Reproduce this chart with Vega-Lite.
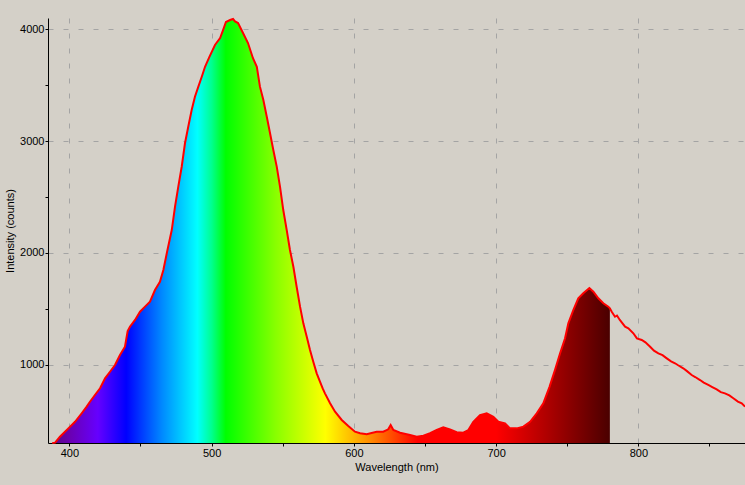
{
  "$schema": "https://vega.github.io/schema/vega-lite/v6.json",
  "width": 697,
  "height": 425,
  "autosize": {"type": "none"},
  "padding": {"left": 48, "top": 18, "right": 0, "bottom": 42},
  "background": "#d4d0c8",
  "config": {
    "view": {"stroke": null},
    "font": "Liberation Sans",
    "axis": {
      "labelFont": "Liberation Sans",
      "titleFont": "Liberation Sans",
      "labelFontSize": 11,
      "titleFontSize": 11,
      "titleFontWeight": "normal",
      "labelColor": "#000000",
      "titleColor": "#000000",
      "domainColor": "#000000",
      "domainWidth": 1,
      "tickColor": "#000000",
      "tickSize": 3,
      "gridColor": "#a4a4a4",
      "gridDash": [5, 10],
      "gridWidth": 1,
      "labelOverlap": false,
      "labelFlush": false,
      "labelBound": false,
      "zindex": 1
    }
  },
  "data": {
    "values": [
      {"wl": 388, "c": 300}, {"wl": 390, "c": 303}, {"wl": 393.4, "c": 356}, {"wl": 399.3, "c": 431},
      {"wl": 404.0, "c": 490}, {"wl": 408.7, "c": 566}, {"wl": 412.2, "c": 625}, {"wl": 414.5, "c": 669},
      {"wl": 418.0, "c": 729}, {"wl": 421.6, "c": 789}, {"wl": 425.1, "c": 878}, {"wl": 428.6, "c": 937},
      {"wl": 432.1, "c": 997}, {"wl": 435.6, "c": 1087}, {"wl": 439.1, "c": 1161}, {"wl": 441, "c": 1300},
      {"wl": 442.6, "c": 1340}, {"wl": 446.2, "c": 1400}, {"wl": 449.7, "c": 1474}, {"wl": 453.2, "c": 1519},
      {"wl": 456.7, "c": 1563}, {"wl": 460.2, "c": 1668}, {"wl": 463.7, "c": 1742}, {"wl": 466.1, "c": 1847},
      {"wl": 468.5, "c": 1996}, {"wl": 472.0, "c": 2204}, {"wl": 474.3, "c": 2413}, {"wl": 476.6, "c": 2592},
      {"wl": 479.0, "c": 2770}, {"wl": 481.3, "c": 2980}, {"wl": 483.6, "c": 3128}, {"wl": 486.0, "c": 3277},
      {"wl": 488.3, "c": 3396}, {"wl": 490.7, "c": 3486}, {"wl": 493.1, "c": 3575}, {"wl": 495.4, "c": 3664},
      {"wl": 498.4, "c": 3750}, {"wl": 502.4, "c": 3859}, {"wl": 506.0, "c": 3921}, {"wl": 508.0, "c": 3990},
      {"wl": 510.1, "c": 4064}, {"wl": 513.0, "c": 4082}, {"wl": 515.1, "c": 4091}, {"wl": 516.5, "c": 4070},
      {"wl": 518.6, "c": 4055}, {"wl": 522.1, "c": 3966}, {"wl": 525.6, "c": 3876}, {"wl": 529.1, "c": 3740},
      {"wl": 531.8, "c": 3663}, {"wl": 534.0, "c": 3486}, {"wl": 536.4, "c": 3367}, {"wl": 538.8, "c": 3217},
      {"wl": 541.1, "c": 3069}, {"wl": 543.4, "c": 2920}, {"wl": 545.8, "c": 2771}, {"wl": 548.1, "c": 2592},
      {"wl": 550.4, "c": 2383}, {"wl": 552.8, "c": 2205}, {"wl": 555.1, "c": 2026}, {"wl": 557.5, "c": 1876},
      {"wl": 559.8, "c": 1697}, {"wl": 562.2, "c": 1519}, {"wl": 564.5, "c": 1370}, {"wl": 566.9, "c": 1250},
      {"wl": 569.2, "c": 1132}, {"wl": 571.5, "c": 1027}, {"wl": 573.9, "c": 923}, {"wl": 576.2, "c": 848},
      {"wl": 578.1, "c": 788}, {"wl": 579.7, "c": 744}, {"wl": 583.3, "c": 655}, {"wl": 586.8, "c": 580},
      {"wl": 591.5, "c": 506}, {"wl": 596.1, "c": 452}, {"wl": 600.8, "c": 401}, {"wl": 604.4, "c": 387},
      {"wl": 609.1, "c": 378}, {"wl": 612.5, "c": 390}, {"wl": 616.1, "c": 401}, {"wl": 620.7, "c": 401},
      {"wl": 624.2, "c": 422}, {"wl": 625.9, "c": 461}, {"wl": 627.8, "c": 416}, {"wl": 632.5, "c": 392},
      {"wl": 639.5, "c": 372}, {"wl": 644.2, "c": 356}, {"wl": 648.9, "c": 365}, {"wl": 653.6, "c": 387},
      {"wl": 658.3, "c": 416}, {"wl": 662.9, "c": 440}, {"wl": 667.6, "c": 422}, {"wl": 672.3, "c": 396},
      {"wl": 677.0, "c": 392}, {"wl": 680.5, "c": 416}, {"wl": 684.0, "c": 490}, {"wl": 688.7, "c": 550},
      {"wl": 693.4, "c": 566}, {"wl": 698.1, "c": 535}, {"wl": 701.6, "c": 490}, {"wl": 706.3, "c": 476},
      {"wl": 709.8, "c": 431}, {"wl": 714.5, "c": 431}, {"wl": 719.2, "c": 446}, {"wl": 723.9, "c": 490},
      {"wl": 728.6, "c": 566}, {"wl": 733.2, "c": 655}, {"wl": 737.5, "c": 800}, {"wl": 741.4, "c": 953},
      {"wl": 745.0, "c": 1102}, {"wl": 748.5, "c": 1236}, {"wl": 750.8, "c": 1370}, {"wl": 754.3, "c": 1489},
      {"wl": 757.8, "c": 1594}, {"wl": 761.3, "c": 1638}, {"wl": 765.6, "c": 1685}, {"wl": 768.4, "c": 1653},
      {"wl": 771.9, "c": 1594}, {"wl": 775.4, "c": 1549}, {"wl": 778.9, "c": 1519}, {"wl": 780.0, "c": 1505},
      {"wl": 781.3, "c": 1474}, {"wl": 783.6, "c": 1429}, {"wl": 785.0, "c": 1440}, {"wl": 787.0, "c": 1400},
      {"wl": 790.7, "c": 1340}, {"wl": 793.0, "c": 1325}, {"wl": 796.5, "c": 1281}, {"wl": 799.0, "c": 1235},
      {"wl": 802.4, "c": 1221}, {"wl": 805.0, "c": 1200}, {"wl": 808.3, "c": 1161}, {"wl": 811.0, "c": 1125},
      {"wl": 814.1, "c": 1102}, {"wl": 817.0, "c": 1085}, {"wl": 820.0, "c": 1057}, {"wl": 823.0, "c": 1030},
      {"wl": 825.8, "c": 1013}, {"wl": 828.0, "c": 995}, {"wl": 831.6, "c": 968}, {"wl": 834.0, "c": 945},
      {"wl": 837.5, "c": 908}, {"wl": 840.0, "c": 890}, {"wl": 843.4, "c": 863}, {"wl": 846.0, "c": 840},
      {"wl": 849.2, "c": 819}, {"wl": 852.0, "c": 800}, {"wl": 855.1, "c": 780}, {"wl": 858.0, "c": 755},
      {"wl": 860.9, "c": 744}, {"wl": 864.0, "c": 725}, {"wl": 866.8, "c": 700}, {"wl": 870.0, "c": 670},
      {"wl": 872.7, "c": 655}, {"wl": 875.0, "c": 625}
    ]
  },
  "encoding": {
    "x": {
      "field": "wl",
      "type": "quantitative",
      "scale": {"domain": [385, 875], "nice": false, "zero": false},
      "axis": {
        "title": "Wavelength (nm)",
        "values": [400, 450, 500, 550, 600, 650, 700, 750, 800, 850],
        "format": "d",
        "labelExpr": "datum.value % 100 === 0 ? datum.label : ''",
        "grid": true,
        "gridOpacity": {"condition": {"test": "datum.value % 100 === 0", "value": 1}, "value": 0},
        "labelPadding": 1,
        "titlePadding": 3
      }
    },
    "y": {
      "field": "c",
      "type": "quantitative",
      "scale": {"domain": [300, 4100], "nice": false, "zero": false},
      "axis": {
        "title": "Intensity (counts)",
        "values": [1000, 1500, 2000, 2500, 3000, 3500, 4000],
        "format": "d",
        "labelExpr": "datum.value % 1000 === 0 ? datum.label : ''",
        "grid": true,
        "gridOpacity": {"condition": {"test": "datum.value % 1000 === 0", "value": 1}, "value": 0},
        "labelPadding": 1,
        "titlePadding": 4
      }
    }
  },
  "layer": [
    {
      "transform": [{"filter": "datum.wl <= 780"}],
      "mark": {
        "type": "area",
        "opacity": 1,
        "fill": {
          "gradient": "linear",
          "x1": 0, "x2": 1, "y1": 0, "y2": 0,
          "stops": [
            {"offset": 0, "color": "#5a0880"},
            {"offset": 0.0306, "color": "#6a00b0"},
            {"offset": 0.0816, "color": "#6600ff"},
            {"offset": 0.1327, "color": "#0000ff"},
            {"offset": 0.1964, "color": "#0088ff"},
            {"offset": 0.2602, "color": "#00ffff"},
            {"offset": 0.2857, "color": "#00ff90"},
            {"offset": 0.3112, "color": "#00ff00"},
            {"offset": 0.4005, "color": "#88ff00"},
            {"offset": 0.4898, "color": "#ffff00"},
            {"offset": 0.5714, "color": "#ff8800"},
            {"offset": 0.6556, "color": "#ff0000"},
            {"offset": 0.7959, "color": "#ff0000"},
            {"offset": 0.898, "color": "#a50000"},
            {"offset": 1, "color": "#4a0000"}
          ]
        }
      },
      "encoding": {"y2": {"datum": 300}}
    },
    {
      "mark": {"type": "line", "color": "#ff0000", "strokeWidth": 2},
      "encoding": {}
    }
  ]
}
